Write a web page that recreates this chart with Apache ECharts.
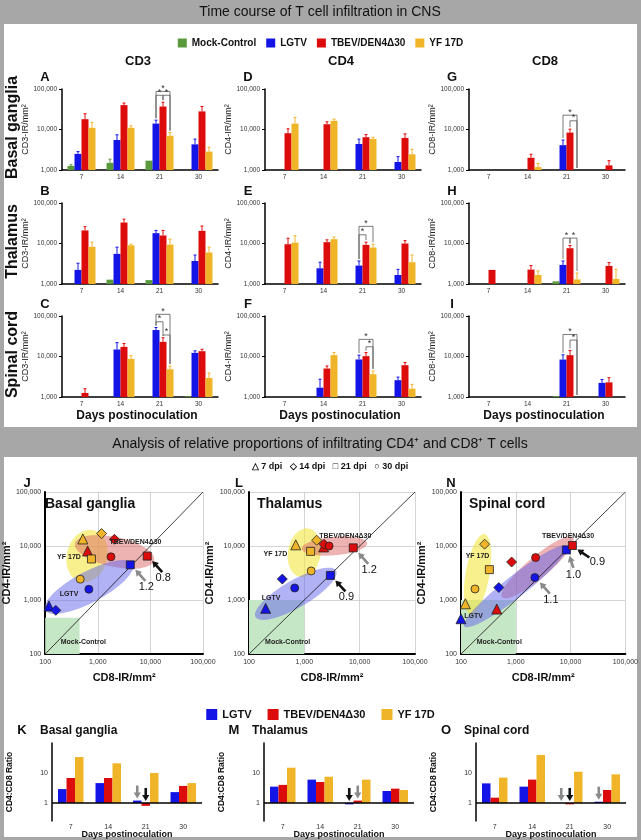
<!DOCTYPE html>
<html><head><meta charset="utf-8">
<script src="https://cdn.jsdelivr.net/npm/echarts@6/dist/echarts.min.js"></script>
<style>html,body{margin:0;padding:0;background:#a7a7a7}#c{width:641px;height:840px}</style>
</head><body><div id="c"></div>
<script>
// ---------------- DATA ----------------
const days = ['7','14','21','30'];
const barSeriesNames = ['Mock-Control','LGTV','TBEV/DEN4Δ30','YF 17D'];
const virusNames = ['LGTV','TBEV/DEN4Δ30','YF 17D'];
// bar means, rows: Mock, LGTV, TBEV, YF ; columns: 7,14,21,30 dpi
const A_means=[[1260,1500,1700,null],[2500,5500,14000,4300],[18000,40000,37000,28000],[11000,11000,7000,2850]];
const A_errs =[[1350,1850,null,null],[2850,7400,17000,5800],[24500,45000,47000,37000],[15000,12300,8400,3650]];
const D_means=[[null,null,null,null],[null,null,4400,1580],[8100,13500,6450,6200],[14000,16400,5850,2440]];
const D_errs =[[null,null,null,null],[null,null,5800,2140],[10400,15500,7500,7800],[20000,18000,6450,3250]];
const G_means=[[null,null,null,null],[null,null,4100,null],[null,2000,8400,1300],[null,1180,null,null]];
const G_errs =[[null,null,null,null],[null,null,5500,null],[null,2450,10200,1700],[null,1450,null,null]];
const B_means=[[null,1280,1250,null],[2230,5550,18000,3700],[21000,33000,15800,20500],[8300,9000,9400,6000]];
const B_errs =[[null,null,null,null],[3250,8100,21000,5200],[26000,40000,21000,27000],[10800,9600,12800,8100]];
const E_means=[[null,null,null,null],[null,2440,2850,1670],[9600,10800,9250,10000],[10500,12800,7950,3450]];
const E_errs =[[null,null,null,null],[null,3450,3700,2300],[13500,12300,10800,11800],[15500,14400,9600,5200]];
const H_means=[[null,null,1160,null],[null,null,2960,null],[2230,2270,7650,2800],[null,1670,1300,1330]];
const H_errs =[[null,null,null,null],[null,null,3700,null],[null,2850,8900,3380],[null,2100,1870,2300]];
const C_means=[[null,null,null,1040],[null,14900,45000,12300],[1260,17300,23000,13500],[null,8700,4850,2950]];
const C_errs =[[null,null,null,null],[null,22000,52000,13800],[1600,21000,29000,15100],[null,10500,5800,3900]];
const F_means=[[null,null,null,null],[null,1700,8450,2600],[null,5050,10200,6100],[null,10800,3650,1600]];
const F_errs =[[null,null,null,null],[null,2750,10800,3100],[null,5850,12500,7100],[null,12500,4400,2050]];
const I_means=[[null,null,1050,null],[null,null,8400,2230],[null,null,10800,2300],[null,null,null,null]];
const I_errs =[[null,null,null,null],[null,null,11000,2700],[null,null,14000,3000],[null,null,null,null]];
// significance brackets: [dayIndex, fromSeries, toSeries, level]
const A_sig=[[2,1,3,87000],[2,1,2,70000],[2,2,3,70000]];
const C_sig=[[2,1,3,110000],[2,1,2,72000],[2,2,3,34000]];
const E_sig=[[2,1,3,26500],[2,1,2,16400]];
const F_sig=[[2,1,3,26500],[2,2,3,17400]];
const G_sig=[[2,1,3,22600],[2,2,3,16400]];
const H_sig=[[2,1,2,13600],[2,2,3,13600]];
const I_sig=[[2,1,3,35000],[2,2,3,25500]];
const bar_ticks = [1000,10000,100000];

// scatter: [CD8, CD4] for 7,14,21,30 dpi
const J_LGTV=[[118,773],[159,643],[4150,4480],[676,1580]];
const J_TBEV=[[640,8070],[2070,13300],[8700,6500],[1780,6300]];
const J_YF  =[[519,13500],[1180,17000],[757,5750],[464,2430]];
const L_LGTV=[[200,700],[400,2440],[2960,2850],[670,1670]];
const L_TBEV=[[2230,9600],[2270,10800],[7650,9250],[2800,10000]];
const L_YF  =[[700,10500],[1670,12800],[1300,7950],[1330,3450]];
const N_LGTV=[[100,450],[490,1700],[8400,8450],[2230,2600]];
const N_TBEV=[[450,680],[840,5050],[10800,10200],[2300,6100]];
const N_YF  =[[120,850],[270,10800],[330,3650],[180,1600]];
const scatter_range=[100,100000];
// mock-control box upper corner [CD8, CD4]
const J_mockBox=[450,470];
const L_mockBox=[1000,1000];
const N_mockBox=[1000,1000];
// group ellipses: [centerCD8, centerCD4, semiAxisA(decades), semiAxisB(decades), angleDeg, colour 0=LGTV 1=TBEV 2=YF]
const J_ellipses=[[625,6530,0.5,0.38,75,2],[2090,7780,0.76,0.28,-12,1],[680,1740,0.93,0.29,28,0]];
const L_ellipses=[[1000,7500,0.45,0.3,80,2],[3500,10000,0.6,0.17,5,1],[700,1300,0.85,0.25,30,0]];
const N_ellipses=[[200,3000,0.75,0.22,80,2],[2500,4000,0.85,0.2,40,1],[1000,1800,1.2,0.2,38,0]];
// group labels [text, CD8, CD4]
const J_labels=[['TBEV/DEN4Δ30',5200,11800],['YF 17D',283,6260],['LGTV',283,1290],['Mock-Control',530,167]];
const L_labels=[['TBEV/DEN4Δ30',5500,15000],['YF 17D',300,7000],['LGTV',250,1100],['Mock-Control',500,167]];
const N_labels=[['TBEV/DEN4Δ30',9000,15000],['YF 17D',200,6500],['LGTV',170,500],['Mock-Control',500,167]];
// ratio arrows in scatter: [virus, dpiIndex, label, arrowColour]
const J_arrows=[[1,2,'0.8','black'],[0,2,'1.2','gray']];
const L_arrows=[[1,2,'1.2','gray'],[0,2,'0.9','black']];
const N_arrows=[[1,2,'0.9','black'],[0,2,'1.0','gray'],[0,3,'1.1','gray']];
// arrow geometry (pixel offsets from the point): [headDx, headDy, tailDx, tailDy, labelDx, labelDy]
const J_arrowGeom=[[5,5,15,16,1,6],[5,5,15,16,1,6]];
const L_arrowGeom=[[5,5,15,16,1,6],[5,5,15,16,1,6]];
const N_arrowGeom=[[5,4,17,12,8,4],[3,6,7,18,0,7],[5,5,15,16,1,6]];

// CD4:CD8 ratios, rows LGTV, TBEV, YF ; columns 7,14,21,30
const K_ratio=[[2.9,4.6,1.2,2.3],[6.8,6.8,0.8,3.7],[34,21,10,4.6]];
const M_ratio=[[3.5,6,0.9,2.5],[4,5,1.2,3],[15,7.5,6,2.7]];
const O_ratio=[[4.5,3.5,1.0,1.1],[1.5,6,0.9,2.7],[7,40,11,9]];
const ratio_range=[0.25,100];
// down arrows over ratio bars: [dayIndex, virus, colour]
const K_arrows=[[2,0,'gray'],[2,1,'black']];
const M_arrows=[[2,0,'black'],[2,1,'gray']];
const O_arrows=[[2,0,'gray'],[2,1,'black'],[3,0,'gray']];

// ---------------- STYLE ----------------
const FONT='"Liberation Sans", Arial, sans-serif';
const BAR_COL=['#5a9a3c','#1414e6','#dc0c0c','#f0b428'];
const VCOL=['#1414e6','#dc0c0c','#f0b428'];
const ELL_COL=['rgba(100,100,236,0.5)','rgba(218,96,96,0.48)','rgba(242,230,70,0.62)'];
const ARROW_COL={gray:'#8a8a8a',black:'#111'};
const BW=7, RBW=8.5;
const SHAPES=['triangle','diamond','rect','circle'];
const SHAPE_SIZE=[10,10,8,8];
const fmt=v=>Math.round(v).toLocaleString('en-US');

const option={backgroundColor:'#a7a7a7',animation:false,textStyle:{fontFamily:FONT},
  grid:[],xAxis:[],yAxis:[],series:[],legend:[],graphic:{elements:[]}};
const G=option.graphic.elements;
function txt(x,y,text,font,extra){G.push(Object.assign({type:'text',x:x,y:y,z:50,style:{text:text,font:font+' '+FONT,fill:'#111',align:'center',verticalAlign:'middle'}},extra||{}));}

function arrowShape(tx,ty,hx,hy,color,w){
  const dx=hx-tx,dy=hy-ty,L=Math.hypot(dx,dy),ux=dx/L,uy=dy/L,nx=-uy,ny=ux,hl=6,hw=3.6;
  return [{type:'line',shape:{x1:tx,y1:ty,x2:hx-ux*hl*0.7,y2:hy-uy*hl*0.7},style:{stroke:color,lineWidth:w}},
   {type:'polygon',shape:{points:[[hx,hy],[hx-ux*hl+nx*hw,hy-uy*hl+ny*hw],[hx-ux*hl-nx*hw,hy-uy*hl-ny*hw]]},style:{fill:color}}];
}

// backgrounds
G.push({type:'rect',z:-100,shape:{x:4,y:24,width:633,height:403},style:{fill:'#fff'}});
G.push({type:'rect',z:-100,shape:{x:4,y:457,width:633,height:380},style:{fill:'#fff'}});
txt(320,12,'Time course of T cell infiltration in CNS','14px');
txt(320,444,'Analysis of relative proportions of infiltrating CD4⁺ and CD8⁺ T cells','14px');

option.legend.push({top:33,left:'center',icon:'rect',itemWidth:9,itemHeight:9,itemGap:10,selectedMode:false,
  textStyle:{fontWeight:'bold',fontSize:10,color:'#111',fontFamily:FONT},data:barSeriesNames});
option.legend.push({top:704,left:'center',icon:'rect',itemWidth:11,itemHeight:11,itemGap:16,selectedMode:false,
  textStyle:{fontWeight:'bold',fontSize:11,color:'#111',fontFamily:FONT},data:virusNames});

// ---------------- BAR PANELS ----------------
const rowTop=[89,203,316], colLeft=[62,265,469], PW=156, PH=81;
const yNames=['CD3-IR/mm²','CD4-IR/mm²','CD8-IR/mm²'];
const barPanels=[
 {L:'A',m:A_means,e:A_errs,s:A_sig,r:0,c:0},{L:'D',m:D_means,e:D_errs,s:[],r:0,c:1},{L:'G',m:G_means,e:G_errs,s:G_sig,r:0,c:2},
 {L:'B',m:B_means,e:B_errs,s:[],r:1,c:0},{L:'E',m:E_means,e:E_errs,s:E_sig,r:1,c:1},{L:'H',m:H_means,e:H_errs,s:H_sig,r:1,c:2},
 {L:'C',m:C_means,e:C_errs,s:C_sig,r:2,c:0},{L:'F',m:F_means,e:F_errs,s:F_sig,r:2,c:1},{L:'I',m:I_means,e:I_errs,s:I_sig,r:2,c:2}];
barPanels.forEach(p=>{
  const gi=option.grid.length;
  option.grid.push({left:colLeft[p.c],top:rowTop[p.r],width:PW,height:PH});
  option.xAxis.push({type:'category',gridIndex:gi,data:days,
    axisLine:{lineStyle:{color:'#000',width:1.5}},axisTick:{length:3,lineStyle:{color:'#000'}},
    axisLabel:{fontSize:6.5,color:'#333',margin:4}});
  option.yAxis.push({type:'log',logBase:10,gridIndex:gi,min:bar_ticks[0],max:bar_ticks[2],
    axisLine:{show:true,lineStyle:{color:'#000',width:1.5}},axisTick:{show:true,length:3,lineStyle:{color:'#000'}},
    splitLine:{show:false},minorTick:{show:false},axisLabel:{fontSize:6.5,color:'#333',margin:5,formatter:fmt},
    name:yNames[p.c],nameLocation:'middle',nameGap:17,nameTextStyle:{fontSize:9,color:'#222'}});
  for(let s=0;s<4;s++){
    option.series.push({type:'bar',name:barSeriesNames[s],xAxisIndex:gi,yAxisIndex:gi,barWidth:BW,barGap:'0%',
      itemStyle:{color:BAR_COL[s]},data:p.m[s].map(v=>v==null?'-':v)});
  }
  const meta=[],edata=[];
  for(let s=0;s<4;s++)for(let c=0;c<4;c++){if(p.e[s][c]!=null&&p.m[s][c]!=null){edata.push([c,p.e[s][c]]);meta.push([s,p.m[s][c],p.e[s][c]]);}}
  option.series.push({type:'custom',xAxisIndex:gi,yAxisIndex:gi,z:3,silent:true,clip:false,data:edata,encode:{x:0,y:1},
    renderItem:(prm,api)=>{const mm=meta[prm.dataIndex];const c=api.value(0);const pt=api.coord([c,mm[2]]),pb=api.coord([c,mm[1]]);
      const x=pt[0]+(mm[0]-1.5)*BW;const col=BAR_COL[mm[0]];
      return {type:'group',children:[{type:'line',shape:{x1:x,y1:pb[1],x2:x,y2:pt[1]},style:{stroke:col,lineWidth:1}},
        {type:'line',shape:{x1:x-1.5,y1:pt[1],x2:x+1.5,y2:pt[1]},style:{stroke:col,lineWidth:1}}]};}});
  if(p.s.length){
    const smeta=p.s.map(d=>{const b=k=>p.e[k][d[0]]!=null?p.e[k][d[0]]:(p.m[k][d[0]]!=null?p.m[k][d[0]]:bar_ticks[0]);return [d[0],d[1],d[2],d[3],b(d[1]),b(d[2])];});
    option.series.push({type:'custom',xAxisIndex:gi,yAxisIndex:gi,z:4,silent:true,clip:false,data:p.s.map(d=>[d[0],d[3]]),encode:{x:0,y:1},
      renderItem:(prm,api)=>{const d=smeta[prm.dataIndex];const lv=api.coord([d[0],d[3]]);
        const x1=lv[0]+(d[1]-1.5)*BW,x2=lv[0]+(d[2]-1.5)*BW,y=lv[1];
        const y1=api.coord([d[0],d[4]])[1]-2,y2=api.coord([d[0],d[5]])[1]-2;
        return {type:'group',children:[{type:'polyline',shape:{points:[[x1,y1],[x1,y],[x2,y],[x2,y2]]},style:{stroke:'#555',lineWidth:0.8,fill:null}},
          {type:'text',style:{text:'*',x:(x1+x2)/2,y:y-3,align:'center',verticalAlign:'middle',font:'9px '+FONT,fill:'#333'}}]};}});
  }
  txt(colLeft[p.c]-17,rowTop[p.r]-12,p.L,'bold 13px');
});
['CD3','CD4','CD8'].forEach((t,i)=>txt(colLeft[i]+PW/2-2,61,t,'bold 13px'));
['Basal ganglia','Thalamus','Spinal cord'].forEach((t,i)=>txt(13,rowTop[i]+PH/2-2,t,'bold 16px',{rotation:Math.PI/2}));
[0,1,2].forEach(i=>txt(colLeft[i]+PW/2-3,416,'Days postinoculation','bold 12px'));

// ---------------- SCATTER PANELS ----------------
txt(330,467,'△ 7 dpi   ◇ 14 dpi   □ 21 dpi   ○ 30 dpi','bold 9px');
const SL=[37,249,461], ST=492, SW=166, SH=162;
const scatPanels=[
 {L:'J',t:'Basal ganglia',v:[J_LGTV,J_TBEV,J_YF],box:J_mockBox,ell:J_ellipses,lab:J_labels,arr:J_arrows,ag:J_arrowGeom},
 {L:'L',t:'Thalamus',v:[L_LGTV,L_TBEV,L_YF],box:L_mockBox,ell:L_ellipses,lab:L_labels,arr:L_arrows,ag:L_arrowGeom},
 {L:'N',t:'Spinal cord',v:[N_LGTV,N_TBEV,N_YF],box:N_mockBox,ell:N_ellipses,lab:N_labels,arr:N_arrows,ag:N_arrowGeom}];
scatPanels.forEach((p,k)=>{
  const gi=option.grid.length;
  option.grid.push({left:SL[k],top:ST,width:SW,height:SH});
  const ax={type:'log',logBase:10,gridIndex:gi,min:scatter_range[0],max:scatter_range[1],
    axisLine:{show:true,onZero:false,lineStyle:{color:'#000',width:2}},axisTick:{show:false},minorTick:{show:false},
    splitLine:{show:true,lineStyle:{color:'#c9c9c9',width:0.8}},axisLabel:{fontSize:7,color:'#333',formatter:fmt},
    nameLocation:'middle',nameTextStyle:{fontSize:11,fontWeight:'bold',color:'#111'}};
  option.xAxis.push(Object.assign({},ax,{name:'CD8-IR/mm²',nameGap:18,axisLabel:Object.assign({},ax.axisLabel,{margin:5})}));
  option.yAxis.push(Object.assign({},ax,{name:'CD4-IR/mm²',nameGap:30,axisLabel:Object.assign({},ax.axisLabel,{margin:4})}));
  option.series.push({type:'custom',xAxisIndex:gi,yAxisIndex:gi,z:1,silent:true,data:[[p.box[0],p.box[1]]],encode:{x:0,y:1},
    renderItem:(prm,api)=>{const a=api.coord([scatter_range[0],scatter_range[0]]),b=api.coord([api.value(0),api.value(1)]);
      return {type:'rect',shape:{x:a[0],y:b[1],width:b[0]-a[0],height:a[1]-b[1]},style:{fill:'#c6e7c6'}};}});
  option.series.push({type:'custom',xAxisIndex:gi,yAxisIndex:gi,z:2,silent:true,data:p.ell.map(e=>[e[0],e[1]]),encode:{x:0,y:1},
    renderItem:(prm,api)=>{const e=p.ell[prm.dataIndex];const c=api.coord([e[0],e[1]]);
      const dx=api.coord([e[0]*10,e[1]])[0]-c[0],dy=c[1]-api.coord([e[0],e[1]*10])[1],dec=(dx+dy)/2;
      return {type:'circle',x:c[0],y:c[1],scaleX:e[2]*dec,scaleY:e[3]*dec,rotation:e[4]*Math.PI/180,shape:{cx:0,cy:0,r:1},style:{fill:ELL_COL[e[5]]}};}});
  option.series.push({type:'line',xAxisIndex:gi,yAxisIndex:gi,z:3,silent:true,symbol:'none',
    lineStyle:{color:'#111',width:0.8},data:[[scatter_range[0],scatter_range[0]],[scatter_range[1],scatter_range[1]]]});
  p.v.forEach((arr,vi)=>{
    option.series.push({type:'scatter',name:virusNames[vi],xAxisIndex:gi,yAxisIndex:gi,z:5,
      itemStyle:{color:VCOL[vi],borderColor:'#222',borderWidth:0.8,opacity:1},
      data:arr.map((pt,i)=>({value:pt,symbol:SHAPES[i],symbolSize:SHAPE_SIZE[i]}))});
  });
  option.series.push({type:'custom',xAxisIndex:gi,yAxisIndex:gi,z:6,silent:true,clip:false,data:p.lab.map(l=>[l[1],l[2]]),encode:{x:0,y:1},
    renderItem:(prm,api)=>{const c=api.coord([api.value(0),api.value(1)]);
      return {type:'text',style:{text:p.lab[prm.dataIndex][0],x:c[0],y:c[1],align:'center',verticalAlign:'middle',font:'bold 7px '+FONT,fill:'#222'}};}});
  option.series.push({type:'custom',xAxisIndex:gi,yAxisIndex:gi,z:7,silent:true,clip:false,data:p.arr.map(a=>p.v[a[0]][a[1]]),encode:{x:0,y:1},
    renderItem:(prm,api)=>{const a=p.arr[prm.dataIndex],g=p.ag[prm.dataIndex];const c=api.coord([api.value(0),api.value(1)]);
      const hx=c[0]+g[0],hy=c[1]+g[1],tx=c[0]+g[2],ty=c[1]+g[3];
      return {type:'group',children:arrowShape(tx,ty,hx,hy,ARROW_COL[a[3]],2.6).concat([
        {type:'text',style:{text:a[2],x:tx+g[4],y:ty+g[5],align:'center',verticalAlign:'middle',font:'11px '+FONT,fill:'#111'}}])};}});
  txt(SL[k]-10,483,p.L,'bold 13px');
  G.push({type:'text',x:SL[k]+8,y:504,z:50,style:{text:p.t,font:'bold 14px '+FONT,fill:'#111',align:'left',verticalAlign:'middle'}});
});

// ---------------- RATIO PANELS ----------------
const RL=[52,264,476], RT=743, RW=150, RH=78;
const ratioPanels=[{L:'K',t:'Basal ganglia',r:K_ratio,a:K_arrows},{L:'M',t:'Thalamus',r:M_ratio,a:M_arrows},{L:'O',t:'Spinal cord',r:O_ratio,a:O_arrows}];
ratioPanels.forEach((p,k)=>{
  const gi=option.grid.length;
  option.grid.push({left:RL[k],top:RT,width:RW,height:RH});
  option.xAxis.push({type:'category',gridIndex:gi,data:days,axisLine:{show:false},axisTick:{show:false},
    axisLabel:{fontSize:7,color:'#333',margin:3}});
  option.yAxis.push({type:'log',logBase:10,gridIndex:gi,min:ratio_range[0],max:ratio_range[1],
    axisLine:{show:true,onZero:false,lineStyle:{color:'#000',width:1.5}},axisTick:{show:false},minorTick:{show:false},splitLine:{show:false},
    axisLabel:{fontSize:7,color:'#333',margin:4,formatter:v=>(Math.abs(v-1)<1e-6?'1':(Math.abs(v-10)<1e-5?'10':''))},
    name:'CD4:CD8 Ratio',nameLocation:'middle',nameGap:38,nameTextStyle:{fontSize:8.5,fontWeight:'bold',color:'#111'}});
  for(let s=0;s<3;s++){
    const ser={type:'bar',name:virusNames[s],xAxisIndex:gi,yAxisIndex:gi,barWidth:RBW,barGap:'0%',itemStyle:{color:VCOL[s]},data:p.r[s]};
    if(s===0) ser.markLine={silent:true,symbol:'none',label:{show:false},lineStyle:{color:'#000',width:1.5,type:'solid'},data:[{yAxis:1}]};
    option.series.push(ser);
  }
  option.series.push({type:'custom',xAxisIndex:gi,yAxisIndex:gi,z:6,silent:true,clip:false,
    data:p.a.map(a=>[a[0],Math.max(1,p.r[a[1]][a[0]])]),encode:{x:0,y:1},
    renderItem:(prm,api)=>{const a=p.a[prm.dataIndex];const c=api.coord([api.value(0),api.value(1)]);
      const x=c[0]+(a[1]-1)*RBW;return {type:'group',children:arrowShape(x,c[1]-15,x,c[1]-2,ARROW_COL[a[2]],2.6)};}});
  txt(RL[k]-30,730,p.L,'bold 13px');
  G.push({type:'text',x:RL[k]-12,y:731,z:50,style:{text:p.t,font:'bold 12px '+FONT,fill:'#111',align:'left',verticalAlign:'middle'}});
  txt(RL[k]+RW/2,835,'Days postinoculation','bold 9px');
});

const chart=echarts.init(document.getElementById('c'),null,{renderer:'canvas'});
chart.setOption(option);
</script></body></html>
